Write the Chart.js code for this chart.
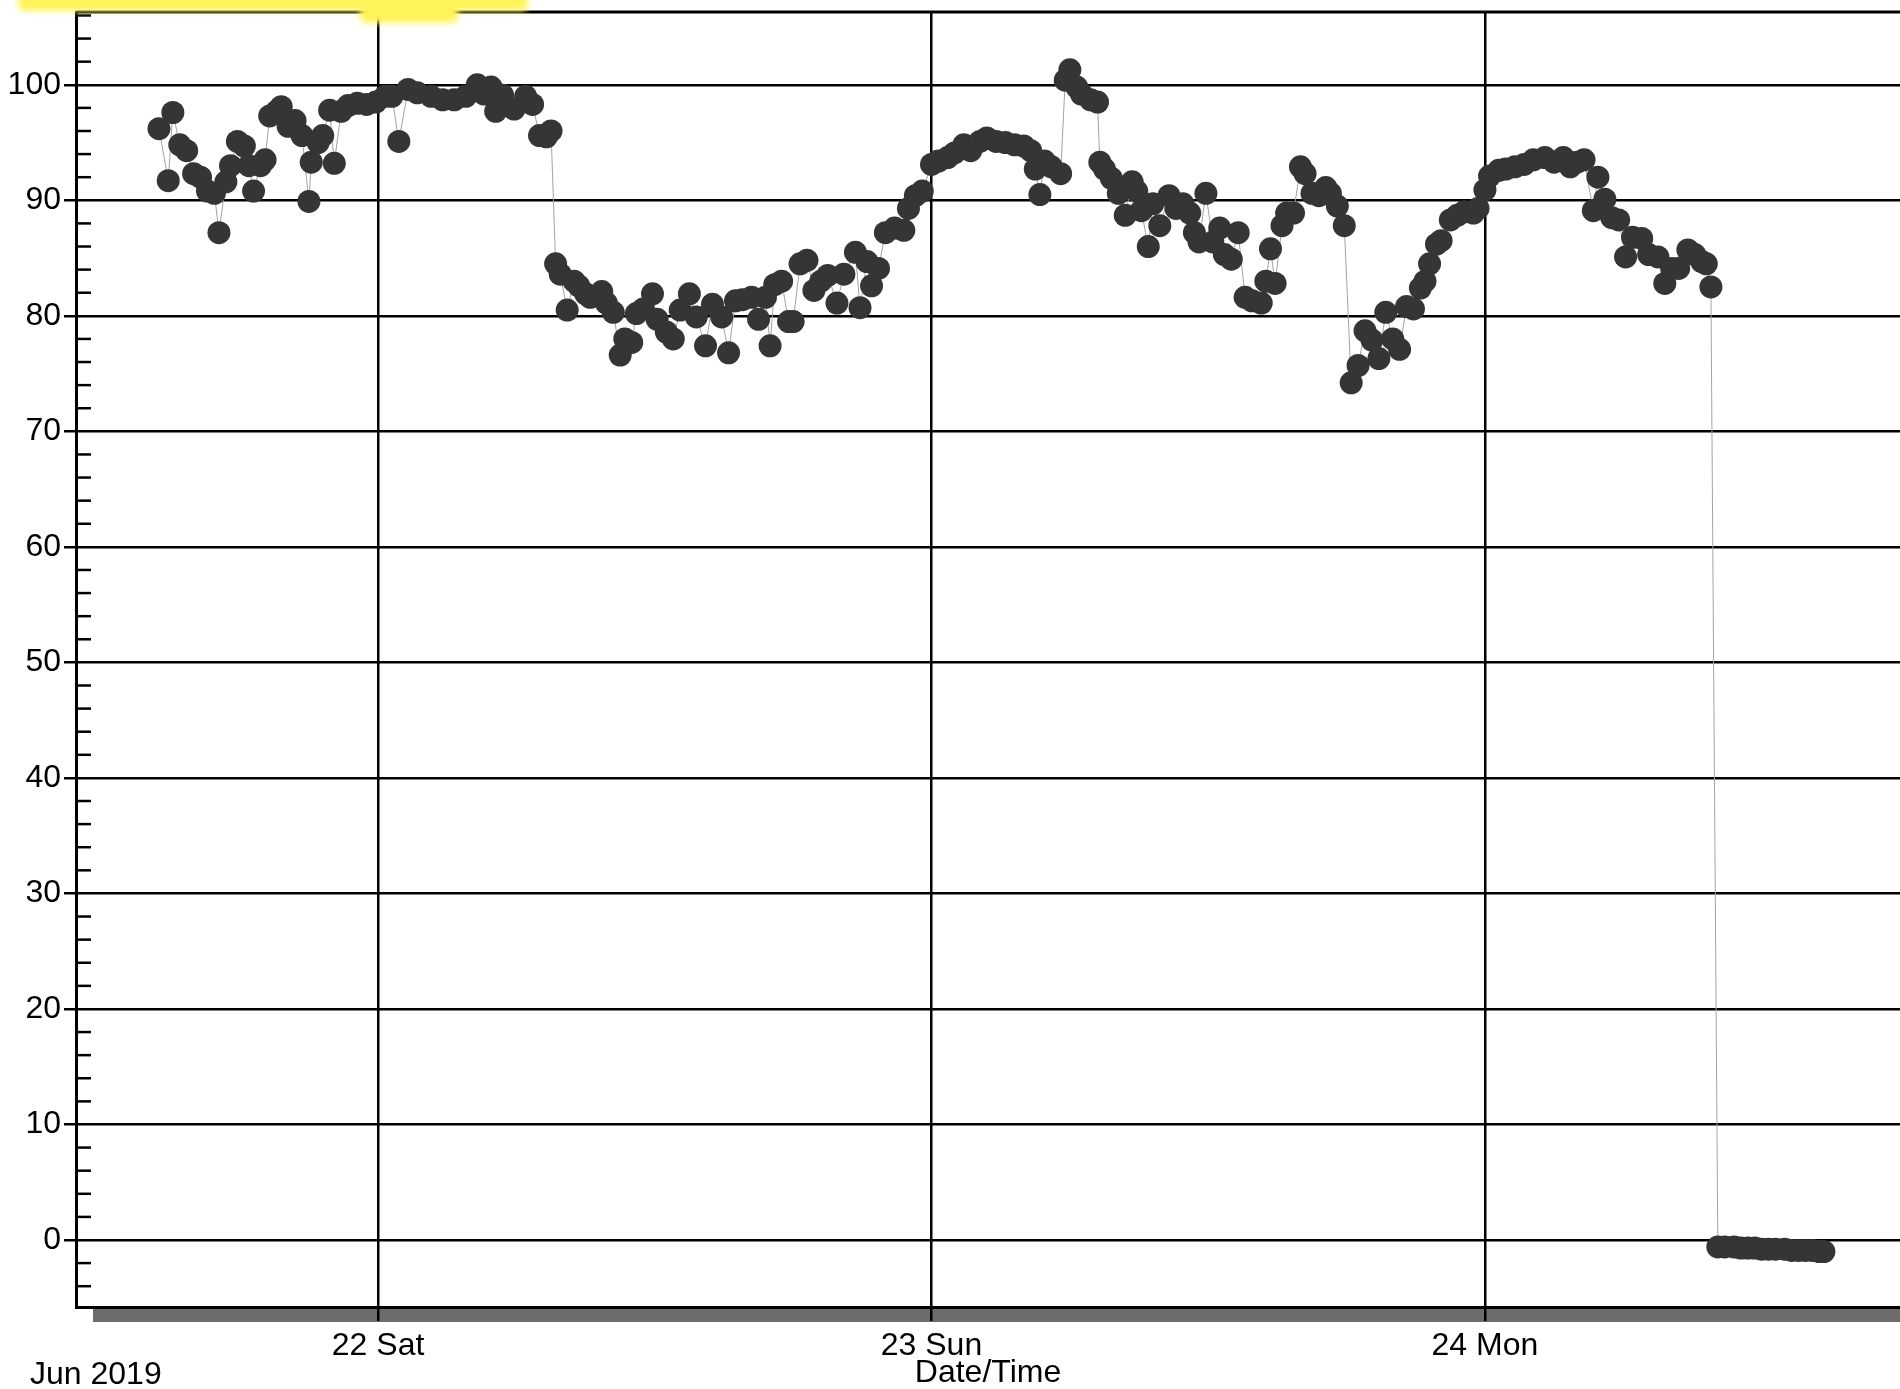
<!DOCTYPE html>
<html>
<head>
<meta charset="utf-8">
<title>Date/Time</title>
<script src="https://cdn.jsdelivr.net/npm/chart.js@4.4.1/dist/chart.umd.min.js"></script>
<style>
  html, body { margin: 0; padding: 0; background: #fff; }
  #wrap { position: relative; width: 1900px; height: 1389px; overflow: hidden; }
  #chart { display: block; }
  .marker { position: absolute; background: #fff35a; filter: blur(3px); border-radius: 6px; }
  #monthLabel {
    position: absolute; left: 30px; top: 1355px;
    font: 32px "Liberation Sans", Arial, sans-serif; line-height: 36px; color: #000;
  }
</style>
</head>
<body>
<div id="wrap">
  <div class="marker" style="left:18px; top:-6px; width:510px; height:17px;"></div>
  <div class="marker" style="left:360px; top:-4px; width:98px; height:27px;"></div>
  <canvas id="chart" width="1900" height="1389"></canvas>
  <div id="monthLabel">Jun 2019</div>
</div>
<script>
/* =========================
   DATA
========================= */

// hours counted from Jun 21 00:00
const hours = [
  14.5, 14.9, 15.1, 15.4, 15.7, 16.0, 16.3, 16.6, 16.9, 17.1,
  17.4, 17.6, 17.9, 18.2, 18.4, 18.6, 18.9, 19.1, 19.3, 19.6,
  19.8, 20.1, 20.4, 20.7, 21.0, 21.1, 21.4, 21.6, 21.9, 22.1,
  22.4, 22.7, 23.1, 23.5, 23.9,
  24.3, 24.6, 24.9, 25.3, 25.7, 26.3, 26.8, 27.3, 27.8, 28.3,
  28.6, 28.9, 29.1, 29.4, 29.9, 30.4, 30.7, 31.0, 31.3, 31.5,
  31.7, 31.9, 32.2, 32.5, 32.7, 33.0, 33.2, 33.7, 33.9, 34.2,
  34.5, 34.7, 35.0, 35.2, 35.5, 35.9, 36.1, 36.5, 36.8, 37.1,
  37.5, 37.8, 38.2, 38.5, 38.9, 39.2, 39.5, 39.8, 40.2, 40.5,
  40.8, 41.0, 41.2, 41.5, 41.8, 42.0, 42.3, 42.6, 42.9, 43.2,
  43.5, 43.9, 44.2, 44.7, 44.9, 45.2, 45.4, 45.7, 46.0, 46.4,
  46.8, 47.0, 47.3, 47.6,
  48.0, 48.3, 48.7, 49.0, 49.4, 49.7, 50.1, 50.4, 50.8, 51.2,
  51.6, 52.0, 52.3, 52.5, 52.7, 52.9, 53.2, 53.6, 53.8, 54.0,
  54.3, 54.5, 54.9, 55.2, 55.3, 55.5, 55.8, 56.1, 56.4, 56.7,
  56.9, 57.1, 57.4, 57.6, 57.9, 58.3, 58.6, 58.9, 59.2, 59.4,
  59.6, 59.9, 60.2, 60.5, 60.7, 61.0, 61.3, 61.6, 61.9, 62.3,
  62.5, 62.7, 62.9, 63.2, 63.4, 63.7, 64.0, 64.2, 64.5, 64.8,
  65.1, 65.3, 65.6, 65.9, 66.2, 66.5, 66.8, 67.1, 67.4, 67.7,
  68.0, 68.3, 68.6, 68.9, 69.2, 69.4, 69.6, 69.9, 70.1, 70.5,
  70.8, 71.1, 71.5, 71.7,
  72.0, 72.2, 72.6, 72.9, 73.3, 73.7, 74.1, 74.6, 75.0, 75.4,
  75.7, 76.0, 76.3, 76.7, 76.9, 77.2, 77.5, 77.8, 78.1, 78.4,
  78.8, 79.1, 79.5, 79.8, 80.1, 80.4, 80.8, 81.1, 81.4, 81.6,
  81.8,
  82.1, 82.4, 82.8, 83.1, 83.4, 83.7, 84.0, 84.3, 84.6, 85.0,
  85.3, 85.6, 85.9, 86.2, 86.5, 86.7
];

const readings = [
  96.2, 91.7, 97.6, 94.8, 94.3, 92.3, 92.0, 90.8, 90.6, 87.2,
  91.6, 93.0, 95.1, 94.7, 93.0, 90.8, 93.0, 93.5, 97.3, 97.7,
  98.1, 96.4, 96.9, 95.6, 89.9, 93.3, 95.0, 95.6, 97.8, 93.2,
  97.7, 98.2, 98.4, 98.3, 98.5,
  99.0, 99.0, 95.1, 99.6, 99.3, 99.0, 98.7, 98.7, 99.0, 100.0,
  99.2, 99.8, 97.7, 99.1, 97.9, 99.0, 98.3, 95.6, 95.5, 96.0,
  84.5, 83.6, 80.5, 83.0, 82.6, 81.9, 81.6, 82.1, 81.1, 80.3,
  76.6, 78.0, 77.7, 80.2, 80.6, 81.9, 79.7, 78.6, 78.0, 80.5,
  81.9, 79.9, 77.4, 81.0, 79.9, 76.8, 81.3, 81.4, 81.6, 79.7,
  81.6, 77.4, 82.7, 83.0, 79.5, 79.5, 84.5, 84.8, 82.2, 83.0,
  83.5, 81.1, 83.6, 85.5, 80.7, 84.7, 82.6, 84.1, 87.2, 87.6,
  87.4, 89.3, 90.4, 90.8,
  93.1, 93.4, 93.7, 94.1, 94.8, 94.3, 95.1, 95.4, 95.1, 95.0,
  94.8, 94.7, 94.3, 92.7, 90.5, 93.4, 92.9, 92.3, 100.4, 101.3,
  99.8, 99.2, 98.7, 98.5, 93.3, 92.7, 91.9, 90.6, 88.7, 91.6,
  90.8, 89.1, 86.0, 89.7, 87.8, 90.4, 89.3, 89.7, 88.9, 87.2,
  86.4, 90.6, 86.4, 87.6, 85.3, 84.9, 87.2, 81.6, 81.3, 81.1,
  83.0, 85.8, 82.8, 87.8, 88.9, 88.9, 92.9, 92.3, 90.6, 90.4,
  91.1, 90.6, 89.5, 87.8, 74.2, 75.7, 78.7, 77.9, 76.3, 80.3,
  78.0, 77.1, 80.8, 80.6, 82.4, 83.0, 84.5, 86.2, 86.5, 88.3,
  88.7, 89.0, 88.9, 89.3,
  90.9, 92.1, 92.6, 92.7, 92.9, 93.1, 93.5, 93.7, 93.3, 93.7,
  92.9, 93.3, 93.5, 89.1, 92.0, 90.1, 88.5, 88.3, 85.1, 86.8,
  86.7, 85.3, 85.1, 82.8, 84.1, 84.1, 85.7, 85.3, 84.7, 84.5,
  82.5,
  -0.6, -0.6, -0.6, -0.7, -0.7, -0.7, -0.8, -0.8, -0.8, -0.8,
  -0.9, -0.9, -0.9, -0.9, -1.0, -1.0
];

const dayTicks = [24, 48, 72];
const dayLabels = ['22 Sat', '23 Sun', '24 Mon'];

const yTicks = [
  -4, -2, 0, 2, 4, 6, 8, 10, 12, 14, 16, 18, 20, 22, 24, 26, 28, 30,
  32, 34, 36, 38, 40, 42, 44, 46, 48, 50, 52, 54, 56, 58, 60, 62, 64,
  66, 68, 70, 72, 74, 76, 78, 80, 82, 84, 86, 88, 90, 92, 94, 96, 98,
  100, 102, 104, 106
];

/* =========================
   CHART
========================= */

document.addEventListener('DOMContentLoaded', () => {

  if (typeof Chart === 'undefined') {
    return;
  }

  const font = '"Liberation Sans", Arial, sans-serif';

  const isMajor = (v) => Math.abs(v % 10) < 0.001;

  // gray strip under the time axis, top frame line, small inner ticks
  const framePlugin = {
    id: 'frame',
    beforeDraw(chart) {
      const { ctx, chartArea } = chart;
      ctx.save();
      ctx.fillStyle = '#6c6c6c';
      ctx.fillRect(
        chartArea.left + 17,
        chartArea.bottom + 1,
        chart.width - chartArea.left - 17,
        14
      );
      ctx.restore();
    },
    beforeDatasetsDraw(chart) {
      const { ctx, chartArea } = chart;
      const y = chart.scales.y;
      ctx.save();
      ctx.strokeStyle = '#000';
      ctx.lineWidth = 2.5;
      yTicks.forEach((v) => {
        if (isMajor(v)) {
          return;
        }
        const py = y.getPixelForValue(v);
        ctx.beginPath();
        ctx.moveTo(chartArea.left, py);
        ctx.lineTo(chartArea.left + 15, py);
        ctx.stroke();
      });
      ctx.lineWidth = 3;
      ctx.beginPath();
      ctx.moveTo(chartArea.left, chartArea.top);
      ctx.lineTo(chartArea.right, chartArea.top);
      ctx.stroke();
      ctx.restore();
    }
  };

  new Chart(document.getElementById('chart'), {

    type: 'scatter',

    data: {
      datasets: [{
        data: hours.map((h, i) => ({ x: h, y: readings[i] })),
        showLine: true,
        borderColor: '#a3a3a3',
        borderWidth: 1,
        pointRadius: 11.5,
        pointBackgroundColor: '#353535',
        pointBorderWidth: 0,
        pointHoverRadius: 11.5
      }]
    },

    options: {
      responsive: false,
      animation: false,
      layout: {
        autoPadding: false,
        padding: { top: 12, right: 0, left: 0, bottom: 0 }
      },
      plugins: {
        legend: { display: false },
        tooltip: { enabled: false }
      },
      scales: {

        x: {
          type: 'linear',
          min: 10.9,
          max: 90,
          afterBuildTicks: (scale) => {
            scale.ticks = dayTicks.map((v) => ({ value: v }));
          },
          afterFit: (scale) => {
            scale.height = 82;
            scale.paddingLeft = 0;
            scale.paddingRight = 0;
          },
          ticks: {
            autoSkip: false,
            maxRotation: 0,
            padding: 6,
            color: '#000',
            font: { family: font, size: 32 },
            callback: (value) => dayLabels[dayTicks.indexOf(value)]
          },
          grid: {
            color: '#000',
            lineWidth: 2.5,
            tickLength: 14
          },
          border: { color: '#000', width: 3 },
          title: {
            display: true,
            text: 'Date/Time',
            color: '#000',
            padding: 0,
            font: { family: font, size: 32, lineHeight: 1 }
          }
        },

        y: {
          min: -5.8,
          max: 106.3,
          afterBuildTicks: (scale) => {
            scale.ticks = yTicks.map((v) => ({ value: v }));
          },
          afterFit: (scale) => {
            scale.width = 76;
            scale.paddingTop = 0;
            scale.paddingBottom = 0;
          },
          ticks: {
            autoSkip: false,
            padding: 3,
            color: '#000',
            font: { family: font, size: 32 },
            callback: (value) => (isMajor(value) ? String(value) : '')
          },
          grid: {
            color: (c) => (c.tick && isMajor(c.tick.value) ? '#000' : 'rgba(0,0,0,0)'),
            lineWidth: 2.5,
            tickLength: 12
          },
          border: { color: '#000', width: 3 }
        }

      }
    },

    plugins: [framePlugin]

  });

});
</script>
</body>
</html>
